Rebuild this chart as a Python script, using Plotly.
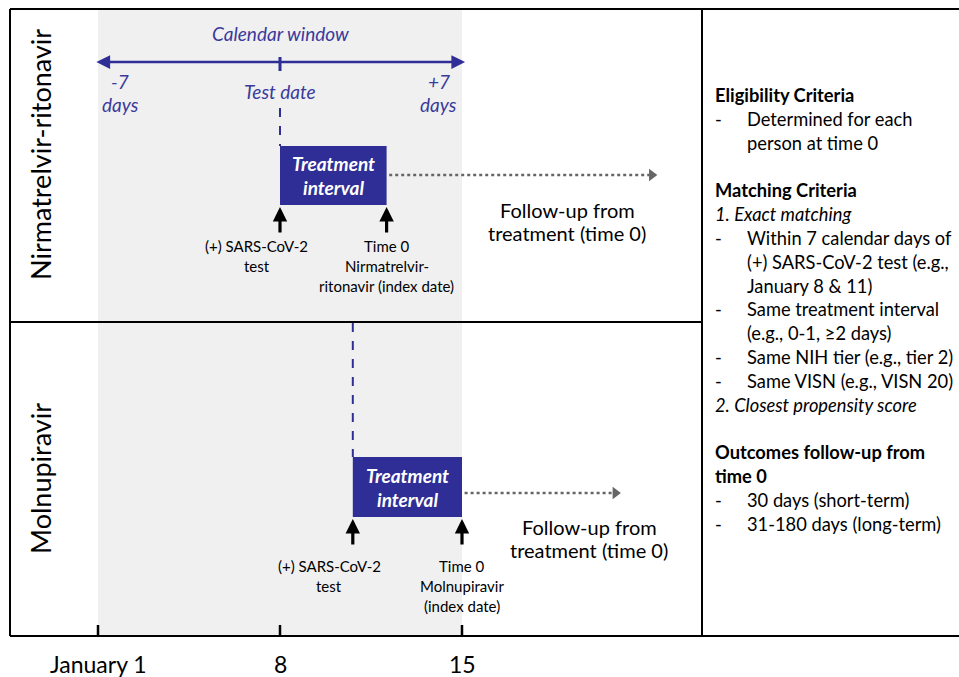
import plotly.graph_objects as go

# ---------------- data ----------------
tick_days = [1, 8, 15]
tick_labels = ["January 1", "8", "15"]
window_start, window_end = 1, 15          # calendar window (-7 / +7 days around test date 8)
window_center = 8

arms = ["Nirmatrelvir-ritonavir", "Molnupiravir"]
test_day = [8, 10.8]                      # (+) SARS-CoV-2 test
time0_day = [12.1, 15]                    # treatment start (time 0)
followup_end_day = [22.3, 20.9]           # end of dotted follow-up arrows
time0_labels = ["Time 0<br>Nirmatrelvir-<br>ritonavir (index date)",
                "Time 0<br>Molnupiravir<br>(index date)"]

criteria_lines = [
    ("b", "", "Eligibility Criteria"),
    ("n", "-", "Determined for each"),
    ("n", "", "person at time 0"),
    ("gap", "", ""),
    ("b", "", "Matching Criteria"),
    ("i", "", "1. Exact matching"),
    ("n", "-", "Within 7 calendar days of"),
    ("n", "", "(+) SARS-CoV-2 test (e.g.,"),
    ("n", "", "January 8 & 11)"),
    ("n", "-", "Same treatment interval"),
    ("n", "", "(e.g., 0-1, ≥2 days)"),
    ("n", "-", "Same NIH tier (e.g., tier 2)"),
    ("n", "-", "Same VISN (e.g., VISN 20)"),
    ("i", "", "2. Closest propensity score"),
    ("gap", "", ""),
    ("b", "", "Outcomes follow-up from"),
    ("b", "", "time 0"),
    ("n", "-", "30 days (short-term)"),
    ("n", "-", "31-180 days (long-term)"),
]

# ---------------- style ----------------
W, H = 959, 677
PX_PER_DAY = 26.0
DAY1_PX = 98
x_lo = 1 - DAY1_PX / PX_PER_DAY
x_hi = 1 + (W - DAY1_PX) / PX_PER_DAY
FONT = "Lato"
BLUE = "#2E2E96"
BLUE_TXT = "#3A3A9C"
GRAY_BG = "#F0F0F0"

def day_of_px(p):
    return 1 + (p - DAY1_PX) / PX_PER_DAY

# vertical layout of the two panels (pixel rows)
panel_y = [
    dict(box_top=146, box_bot=205, dash_top=108, arrow_top=207, arrow_bot=234,
         lab_y=246, fu_y=175, fu_txt=210, fu_x=567, arm_y=155),
    dict(box_top=457, box_bot=517, dash_top=323, arrow_top=519, arrow_bot=546,
         lab_y=566, fu_y=493, fu_txt=527, fu_x=589, arm_y=479),
]

fig = go.Figure()
shapes = []
ann = []

def px(p):
    return p / W

# gray calendar window background
shapes.append(dict(type="rect", xref="x", yref="y", x0=window_start, x1=window_end,
                   y0=9, y1=636, fillcolor=GRAY_BG, line_width=0, layer="below"))

# frame
frame = dict(color="black", width=2)
shapes += [
    dict(type="line", xref="paper", yref="y", x0=px(10), x1=1, y0=9, y1=9, line=frame),
    dict(type="line", xref="paper", yref="y", x0=px(10), x1=1, y0=636, y1=636, line=frame),
    dict(type="line", xref="paper", yref="y", x0=px(10), x1=px(10), y0=9, y1=636, line=frame),
    dict(type="line", xref="paper", yref="y", x0=px(702), x1=px(702), y0=9, y1=636, line=frame),
    dict(type="line", xref="paper", yref="y", x0=px(10), x1=px(702), y0=322, y1=322, line=frame),
]

# bottom ticks & labels
for d, lab in zip(tick_days, tick_labels):
    shapes.append(dict(type="line", xref="x", yref="y", x0=d, x1=d, y0=625, y1=636,
                       line=dict(color="black", width=2.5)))
    ann.append(dict(x=d, y=664, xref="x", yref="y", text=lab, showarrow=False,
                    font=dict(family=FONT, size=23, color="black"),
                    xanchor="center", yanchor="middle"))

# calendar window arrow
ann.append(dict(x=window_end + 0.12, y=62, ax=window_start - 0.12, ay=62,
                xref="x", yref="y", axref="x", ayref="y", text="", showarrow=True,
                arrowhead=2, arrowside="end+start", arrowsize=1.1, arrowwidth=2.5,
                arrowcolor=BLUE))
shapes.append(dict(type="line", xref="x", yref="y", x0=window_center, x1=window_center,
                   y0=57, y1=71, line=dict(color=BLUE, width=3)))
ann.append(dict(x=window_center, y=33, xref="x", yref="y", text="<i>Calendar window</i>",
                showarrow=False, font=dict(family=FONT, size=19, color=BLUE_TXT)))
ann.append(dict(x=window_center, y=91, xref="x", yref="y", text="<i>Test date</i>",
                showarrow=False, font=dict(family=FONT, size=19, color=BLUE_TXT)))
for d, t, dx in [(window_start, "-7", 0.85), (window_end, "+7", -0.9)]:
    ann.append(dict(x=d + dx, y=81, xref="x", yref="y", text="<i>%s</i>" % t,
                    showarrow=False, font=dict(family=FONT, size=19, color=BLUE_TXT)))
    ann.append(dict(x=d + dx, y=104, xref="x", yref="y", text="<i>days</i>",
                    showarrow=False, font=dict(family=FONT, size=19, color=BLUE_TXT)))

def lines(x, y0, text, step, size, color="black", xanchor="center"):
    for k, t in enumerate(text.split("<br>")):
        ann.append(dict(x=x, y=y0 + k * step, xref="x", yref="y", text=t, showarrow=False,
                        xanchor=xanchor, yanchor="middle",
                        font=dict(family=FONT, size=size, color=color)))

for i, arm in enumerate(arms):
    p = panel_y[i]
    td, t0 = test_day[i], time0_day[i]
    # dashed test-date line
    shapes.append(dict(type="line", xref="x", yref="y", x0=td, x1=td,
                       y0=p["dash_top"], y1=p["box_top"],
                       line=dict(color=BLUE, width=2, dash="dash")))
    # treatment interval box
    shapes.append(dict(type="rect", xref="x", yref="y", x0=td, x1=t0,
                       y0=p["box_top"], y1=p["box_bot"], fillcolor=BLUE, line_width=0))
    mid = (td + t0) / 2
    ymid = (p["box_top"] + p["box_bot"]) / 2
    ann.append(dict(x=mid, y=ymid - 12, xref="x", yref="y", text="<b><i>Treatment</i></b>",
                    showarrow=False, font=dict(family=FONT, size=19, color="white")))
    ann.append(dict(x=mid, y=ymid + 12, xref="x", yref="y", text="<b><i>interval</i></b>",
                    showarrow=False, font=dict(family=FONT, size=19, color="white")))
    # black up arrows
    for d in (td, t0):
        ann.append(dict(x=d, y=p["arrow_top"], ax=d, ay=p["arrow_bot"], xref="x", yref="y",
                        axref="x", ayref="y", text="", showarrow=True, arrowhead=2,
                        arrowsize=0.9, arrowwidth=3.2, arrowcolor="black"))
    # labels under arrows
    lines(td - 0.9, p["lab_y"], "(+) SARS-CoV-2<br>test", 20, 15)
    lines(t0, p["lab_y"], time0_labels[i], 20, 15)
    # dotted follow-up arrow
    fig.add_trace(go.Scatter(x=[t0 + 0.1, followup_end_day[i]], y=[p["fu_y"], p["fu_y"]],
                             mode="lines", line=dict(color="#666666", width=2.5, dash="dot"),
                             hoverinfo="skip", showlegend=False))
    fig.add_trace(go.Scatter(x=[followup_end_day[i]], y=[p["fu_y"]], mode="markers",
                             marker=dict(symbol="triangle-right", size=11, color="#666666"),
                             hoverinfo="skip", showlegend=False))
    lines(day_of_px(p["fu_x"]), p["fu_txt"], "Follow-up from<br>treatment (time 0)", 23, 20)
    # rotated arm label
    ann.append(dict(x=px(40), y=p["arm_y"], xref="paper", yref="y", text=arm,
                    textangle=-90, showarrow=False, xanchor="center", yanchor="middle",
                    font=dict(family=FONT, size=27, color="black")))

# right criteria panel
y = 95
STEP = 23.83
for style, dash, txt in criteria_lines:
    if style == "gap":
        y += STEP
        continue
    if style == "b":
        t = "<b>%s</b>" % txt
    elif style == "i":
        t = "<i>%s</i>" % txt
    else:
        t = txt
    indent = 745 if style == "n" else 713
    ann.append(dict(x=px(indent), y=y, xref="paper", yref="y", text=t, showarrow=False,
                    xanchor="left", yanchor="middle",
                    font=dict(family=FONT, size=18.3, color="black")))
    if dash:
        ann.append(dict(x=px(713), y=y, xref="paper", yref="y", text="-", showarrow=False,
                        xanchor="left", yanchor="middle",
                        font=dict(family=FONT, size=18.3, color="black")))
    y += STEP

fig.update_layout(
    width=W, height=H, margin=dict(l=0, r=0, t=0, b=0),
    paper_bgcolor="white", plot_bgcolor="white",
    xaxis=dict(range=[x_lo, x_hi], visible=False, fixedrange=True),
    yaxis=dict(range=[H, 0], visible=False, fixedrange=True),
    shapes=shapes, annotations=ann, showlegend=False,
)
fig.write_html("out.html", config={"displayModeBar": False},
               post_script="document.body.style.margin='0';document.body.style.overflow='hidden';")
